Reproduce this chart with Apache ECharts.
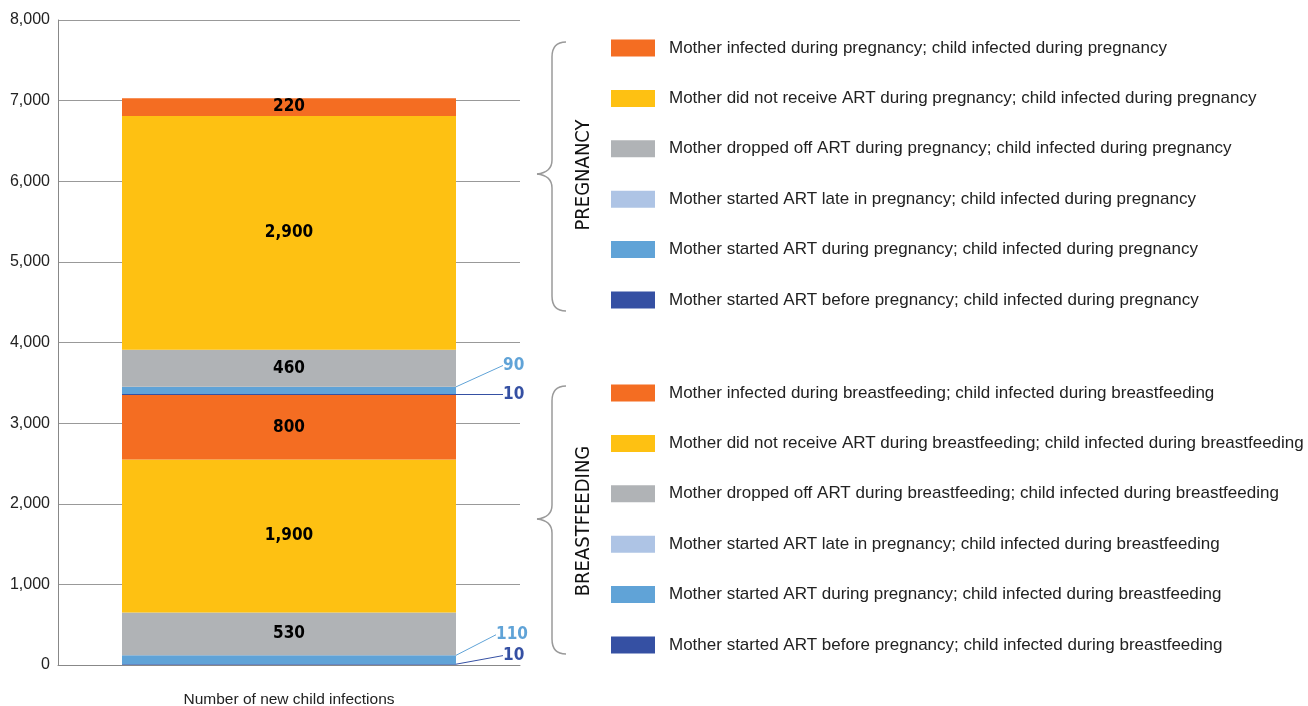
<!DOCTYPE html>
<html>
<head>
<meta charset="utf-8">
<script src="https://cdn.jsdelivr.net/npm/echarts@6/dist/echarts.min.js"></script>
<style>
html,body{margin:0;padding:0;background:#fff;}
#chart{width:1308px;height:706px;}
</style>
</head>
<body>
<div id="chart"></div>
<script>
// ---- data ----
const categories = ["Number of new child infections"];
const yTicks = [0, 1000, 2000, 3000, 4000, 5000, 6000, 7000, 8000];

// Breastfeeding segments (bottom of bar)
const bfNames = [
  "Mother started ART before pregnancy; child infected during breastfeeding",
  "Mother started ART during pregnancy; child infected during breastfeeding",
  "Mother started ART late in pregnancy; child infected during breastfeeding",
  "Mother dropped off ART during breastfeeding; child infected during breastfeeding",
  "Mother did not receive ART during breastfeeding; child infected during breastfeeding",
  "Mother infected during breastfeeding; child infected during breastfeeding"
];
const bfValues = [10, 110, 0, 530, 1900, 800];

// Pregnancy segments (top of bar)
const pgNames = [
  "Mother started ART before pregnancy; child infected during pregnancy",
  "Mother started ART during pregnancy; child infected during pregnancy",
  "Mother started ART late in pregnancy; child infected during pregnancy",
  "Mother dropped off ART during pregnancy; child infected during pregnancy",
  "Mother did not receive ART during pregnancy; child infected during pregnancy",
  "Mother infected during pregnancy; child infected during pregnancy"
];
const pgValues = [10, 90, 0, 460, 2900, 220];

const segColors = ["#3550a3", "#60a3d7", "#aec4e5", "#b0b3b6", "#fec112", "#f46d22"];

// ---- chart ----
const chart = echarts.init(document.getElementById('chart'));
const fmt = v => v.toLocaleString('en-US');
const NARROW = '"Liberation Sans Narrow", "DejaVu Sans Condensed", sans-serif';
const SANS = '"Liberation Sans", Arial, sans-serif';

// external label offsets for the thin segments (index 0 = before, 1 = during)
const extLabel = {
  bf0: {dx: 42, dy: -9},
  bf1: {dx: 35, dy: -25},
  pg0: {dx: 42, dy: 0},
  pg1: {dx: 42, dy: -25}
};

function makeSeries(names, values, key) {
  return names.map((n, i) => {
    const s = {
      name: n,
      type: 'bar',
      stack: 'total',
      barWidth: 334,
      itemStyle: {color: segColors[i]},
      data: [values[i]]
    };
    if (i >= 3) {
      s.label = {
        show: true, position: 'inside', color: '#000',
        fontFamily: NARROW, fontWeight: 'bold', fontSize: 17,
        formatter: p => fmt(p.value)
      };
    } else if (i <= 1) {
      const o = extLabel[key + i];
      s.label = {
        show: true, position: 'right', distance: 5, color: segColors[i],
        fontFamily: NARROW, fontWeight: 'bold', fontSize: 17,
        formatter: p => fmt(p.value)
      };
      s.labelLayout = {dx: o.dx, dy: o.dy};
      s.labelLine = {show: true, length2: 0, lineStyle: {color: segColors[i], width: 1}};
    }
    return s;
  });
}

const series = makeSeries(bfNames, bfValues, 'bf').concat(makeSeries(pgNames, pgValues, 'pg'));

function legendCfg(names, top) {
  return {
    orient: 'vertical', left: 611, top: top, padding: 0,
    icon: 'rect', itemWidth: 44, itemHeight: 17, itemGap: 33.4,
    selectedMode: false,
    data: names.slice().reverse(),
    textStyle: {fontFamily: SANS, fontSize: 17, lineHeight: 17, color: '#222', padding: [0, 0, 0, 9]}
  };
}

const braceStyle = {stroke: '#9a9a9a', fill: null, lineWidth: 1.5};
function brace(top, tip, bottom) {
  const xr = 566, xv = 552, xt = 537;
  return [
    {type: 'bezierCurve', shape: {x1: xr, y1: top, cpx1: xv + 4, cpy1: top, cpx2: xv, cpy2: top + 5, x2: xv, y2: top + 15}, style: braceStyle},
    {type: 'line', shape: {x1: xv, y1: top + 15, x2: xv, y2: tip - 14}, style: braceStyle},
    {type: 'bezierCurve', shape: {x1: xv, y1: tip - 14, cpx1: xv, cpy1: tip - 5, cpx2: xv - 6, cpy2: tip - 1, x2: xt, y2: tip}, style: braceStyle},
    {type: 'bezierCurve', shape: {x1: xt, y1: tip, cpx1: xv - 6, cpy1: tip + 1, cpx2: xv, cpy2: tip + 5, x2: xv, y2: tip + 14}, style: braceStyle},
    {type: 'line', shape: {x1: xv, y1: tip + 14, x2: xv, y2: bottom - 15}, style: braceStyle},
    {type: 'bezierCurve', shape: {x1: xv, y1: bottom - 15, cpx1: xv, cpy1: bottom - 5, cpx2: xv + 4, cpy2: bottom, x2: xr, y2: bottom}, style: braceStyle}
  ];
}

chart.setOption({
  animation: false,
  grid: {left: 58, right: 788, top: 20, bottom: 41, containLabel: false, outerBoundsMode: 'none'},
  xAxis: {
    type: 'category', data: categories,
    axisTick: {show: false},
    axisLine: {lineStyle: {color: '#888', width: 1}},
    axisLabel: {fontFamily: SANS, fontSize: 15.5, color: '#222', margin: 27}
  },
  yAxis: {
    type: 'value', min: yTicks[0], max: yTicks[yTicks.length - 1], interval: 1000,
    axisLine: {show: true, lineStyle: {color: '#888', width: 1}},
    axisTick: {show: false},
    splitLine: {lineStyle: {color: '#999', width: 1}},
    axisLabel: {fontFamily: SANS, fontSize: 16, color: '#222', margin: 8, formatter: v => fmt(v)}
  },
  legend: [legendCfg(pgNames, 39.5), legendCfg(bfNames, 384.5)],
  series: series,
  graphic: brace(42, 174, 311).concat(brace(386, 519, 654)).concat([
    {type: 'text', x: 584, y: 175, rotation: Math.PI / 2,
     style: {text: 'PREGNANCY', font: '20px ' + NARROW, fill: '#111', textAlign: 'center', textVerticalAlign: 'middle'}},
    {type: 'text', x: 584, y: 521, rotation: Math.PI / 2,
     style: {text: 'BREASTFEEDING', font: '20px ' + NARROW, fill: '#111', textAlign: 'center', textVerticalAlign: 'middle'}}
  ])
});
</script>
</body>
</html>
